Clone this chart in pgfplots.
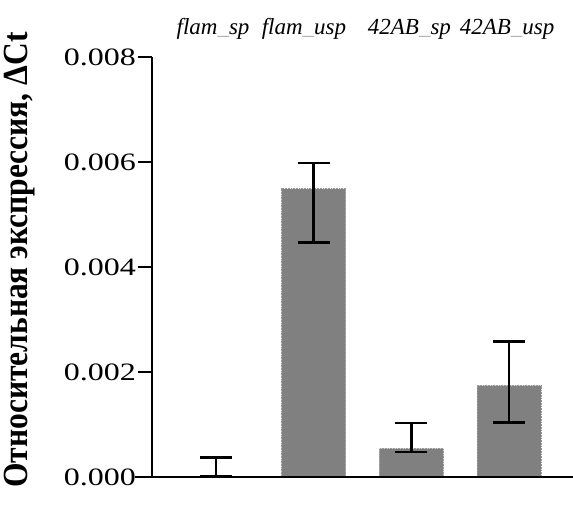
\documentclass[border=0pt]{standalone}
\usepackage{pgfplots}
\pgfplotsset{compat=1.18}
\usepackage{pgfplotstable}
\usepackage{fontspec}
\setmainfont{Liberation Serif}
\newfontfamily\tickfont[FakeStretch=1.28]{Liberation Serif}
\definecolor{barfill}{RGB}{128,128,128}
\pgfplotstableread{
x y ep em
0 0.00001 0.00036 0.00000
1 0.00549 0.00049 0.00102
2 0.00054 0.00049 0.00006
3 0.00174 0.00084 0.00070
}\datatable
\newcommand{\us}{{\color{black!30}\_}}
\begin{document}
\begin{tikzpicture}
\path[use as bounding box] (-152pt,-43pt) rectangle (421pt,477pt);
\begin{axis}[
  at={(0pt,0pt)}, anchor=south west,
  scale only axis,
  width=421pt, height=420pt,
  xmin=-0.655, xmax=3.654,
  ymin=0, ymax=0.008,
  axis lines=left,
  axis line style={-, line width=1.6pt, black},
  ytick={0,0.002,0.004,0.006,0.008},
  yticklabel style={font=\tickfont\fontsize{25}{25}\selectfont, inner sep=2pt},
  y tick label style={/pgf/number format/.cd, fixed, fixed zerofill, precision=3, assume math mode=true},
  scaled y ticks=false,
  xtick=\empty,
  minor xtick={-0.526,-0.397,...,3.60},
  tick align=outside,
  major tick length=14pt,
  minor tick length=3pt,
  every major tick/.style={line width=1.6pt, black},
  every minor tick/.style={line width=1.2pt, black},
  ylabel={\scalebox{1}[1.12]{\bfseries\fontsize{31.5}{31.5}\selectfont Относительная экспрессия, ΔCt}},
  ylabel style={at={(axis description cs:-0.3135,0.5167)}, anchor=center, inner sep=0pt},
  clip=false,
]
\addplot[ybar, bar width=0.655, fill=barfill, draw=black!40, densely dotted, line width=0.6pt,
  error bars/.cd, y dir=both, y explicit,
  error bar style={solid, line width=2.6pt, black},
  error mark options={solid, line width=2.6pt, black, mark size=16pt, rotate=90}]
  table[x=x, y=y, y error plus=ep, y error minus=em] {\datatable};
\draw[line width=1.6pt] ([xshift=-17pt]rel axis cs:0,0) -- (rel axis cs:1,0);
\begin{scope}[every node/.style={font=\itshape\fontsize{23}{23}\selectfont, anchor=base}]
\node at (axis cs:-0.03,0.00843) {flam\us sp};
\node at (axis cs:0.90,0.00843) {flam\us usp};
\node at (axis cs:1.98,0.00843) {42AB\us sp};
\node at (axis cs:2.98,0.00843) {42AB\us usp};
\end{scope}
\end{axis}
\end{tikzpicture}
\end{document}
